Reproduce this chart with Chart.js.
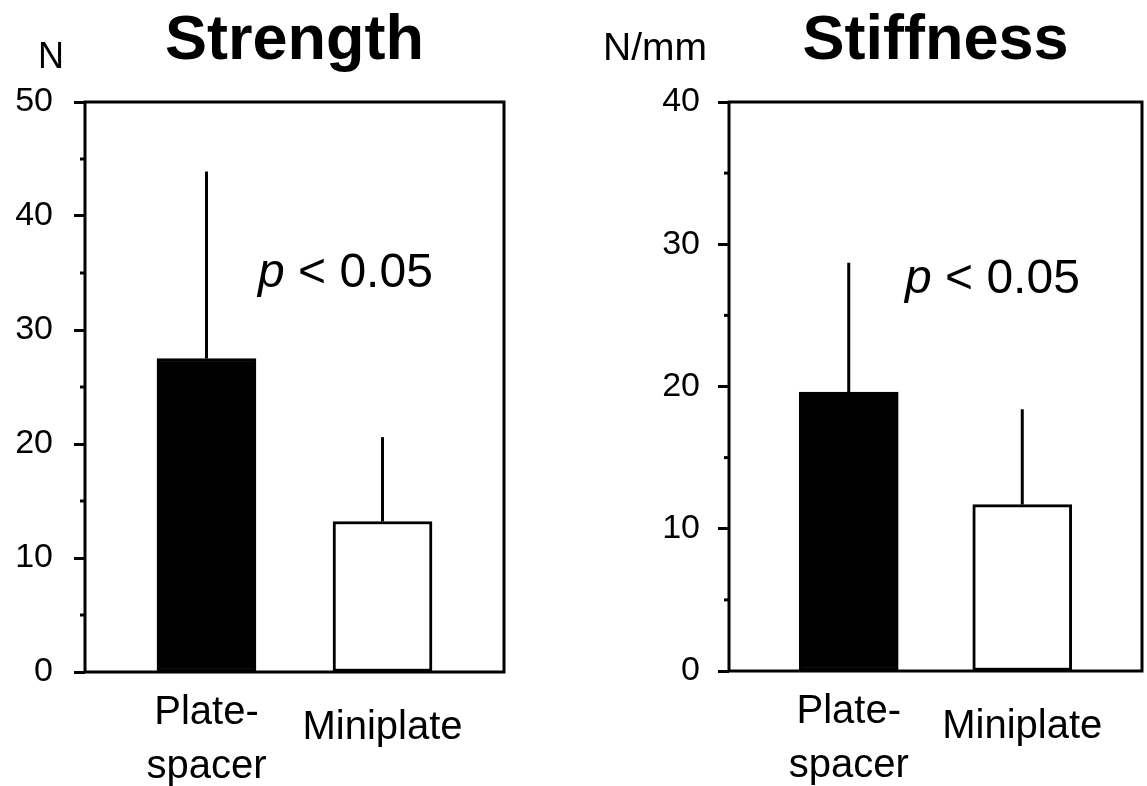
<!DOCTYPE html>
<html>
<head>
<meta charset="utf-8">
<script src="https://cdn.jsdelivr.net/npm/chart.js@4.4.1/dist/chart.umd.min.js"></script>
<style>
body { margin: 0; background: #fff; }
#wrap { position: relative; width: 1147px; height: 786px; }
canvas { position: absolute; top: 0; }
</style>
</head>
<body>
<div id="wrap">
    <canvas id="strengthChart" width="560" height="786" style="left:0px"></canvas>
    <canvas id="stiffnessChart" width="573" height="786" style="left:574px"></canvas>
</div>
<script>
var groups = [['Plate-', 'spacer'], 'Miniplate'];
var barColors = ['#000000', '#ffffff'];

var strengthMean = [27.5, 13.2];
var strengthSD = [16.4, 7.4];
var stiffnessMean = [19.6, 11.7];
var stiffnessSD = [9.1, 6.7];

var pText = 'p < 0.05';
var fontName = "'Liberation Sans', Arial, sans-serif";

// error bars, frame, minor ticks and the texts around the plot
var panelPlugin = {
    id: 'panel',
    afterDatasetsDraw: function(chart) {
        var ctx = chart.ctx;
        var ca = chart.chartArea;
        var yScale = chart.scales.y;
        var meta = chart.getDatasetMeta(0);
        var opts = chart.options.plugins.panel;

        ctx.save();
        ctx.strokeStyle = '#000';
        ctx.lineWidth = 3;

        // upper error whisker only
        for (var i = 0; i < opts.means.length; i++) {
            var bar = meta.data[i];
            var top = yScale.getPixelForValue(opts.means[i] + opts.sd[i]);
            ctx.beginPath();
            ctx.moveTo(bar.x, bar.y);
            ctx.lineTo(bar.x, top);
            ctx.stroke();
        }

        ctx.strokeRect(ca.left, ca.top, ca.right - ca.left, ca.bottom - ca.top);

        // minor ticks between the labelled ones
        for (var v = 5; v < yScale.max; v += 10) {
            var py = yScale.getPixelForValue(v);
            ctx.beginPath();
            ctx.moveTo(ca.left - 5, py);
            ctx.lineTo(ca.left, py);
            ctx.stroke();
        }
        ctx.restore();
    },
    afterDraw: function(chart) {
        var ctx = chart.ctx;
        var ca = chart.chartArea;
        var opts = chart.options.plugins.panel;

        ctx.save();
        ctx.fillStyle = '#000';
        ctx.textBaseline = 'alphabetic';

        ctx.font = 'bold 63px ' + fontName;
        ctx.textAlign = 'center';
        ctx.fillText(opts.title, (ca.left + ca.right) / 2, 59);

        ctx.font = opts.unitSize + 'px ' + fontName;
        ctx.textAlign = 'left';
        ctx.fillText(opts.unit, opts.unitX, opts.unitY);

        // italic p then the rest
        ctx.font = 'italic 48px ' + fontName;
        ctx.fillText('p', opts.pX, opts.pY);
        var w = ctx.measureText('p').width;
        ctx.font = '48px ' + fontName;
        ctx.fillText(pText.substring(1), opts.pX + w, opts.pY);
        ctx.restore();
    }
};

function makeChart(id, means, sd, yMax, panel, yWidth, xHeight, padRight, tickPad) {
    var ctx = document.getElementById(id).getContext('2d');
    panel.means = means;
    panel.sd = sd;

    var points = means.map(function(m, i) {
        return { x: i + 1, y: m };
    });

    return new Chart(ctx, {
        type: 'bar',
        data: {
            datasets: [{
                data: points,
                backgroundColor: barColors,
                borderColor: '#000000',
                borderWidth: 3,
                borderSkipped: false,
                barThickness: 99
            }]
        },
        options: {
            responsive: false,
            animation: false,
            devicePixelRatio: 1,
            layout: {
                padding: { top: 102, right: padRight, left: 0, bottom: 0 }
            },
            plugins: {
                legend: { display: false },
                tooltip: { enabled: false },
                panel: panel
            },
            scales: {
                x: {
                    type: 'linear',
                    min: 0.31,
                    max: 2.69,
                    offset: false,
                    grid: { display: false, drawTicks: false, offset: false },
                    border: { display: false },
                    afterBuildTicks: function(scale) {
                        scale.ticks = [{ value: 1 }, { value: 2 }];
                    },
                    afterFit: function(scale) {
                        scale.height = xHeight;
                    },
                    ticks: {
                        autoSkip: false,
                        maxRotation: 0,
                        crossAlign: 'center',
                        padding: 41,
                        color: '#000',
                        font: function(c) {
                            // single-line label sits a bit above the middle of the two-line one
                            var lh = (c.index === 1) ? 1.95 : 1.35;
                            return { family: fontName, size: 40, lineHeight: lh };
                        },
                        callback: function(value) {
                            return groups[Math.round(value) - 1];
                        }
                    }
                },
                y: {
                    min: 0,
                    max: yMax,
                    border: { display: false },
                    grid: {
                        drawOnChartArea: false,
                        tickLength: 11,
                        tickWidth: 3,
                        tickColor: '#000'
                    },
                    afterFit: function(scale) {
                        scale.width = yWidth;
                    },
                    ticks: {
                        stepSize: 10,
                        padding: tickPad,
                        color: '#000',
                        font: { family: fontName, size: 34 }
                    }
                }
            }
        },
        plugins: [panelPlugin]
    });
}

makeChart('strengthChart', strengthMean, strengthSD, 50, {
    title: 'Strength', unit: 'N', unitSize: 36, unitX: 38, unitY: 68, pX: 258, pY: 287
}, 85, 114, 56, 21);

makeChart('stiffnessChart', stiffnessMean, stiffnessSD, 40, {
    title: 'Stiffness', unit: 'N/mm', unitSize: 39, unitX: 29, unitY: 60, pX: 331, pY: 293
}, 155, 115, 5, 18);
</script>
</body>
</html>
